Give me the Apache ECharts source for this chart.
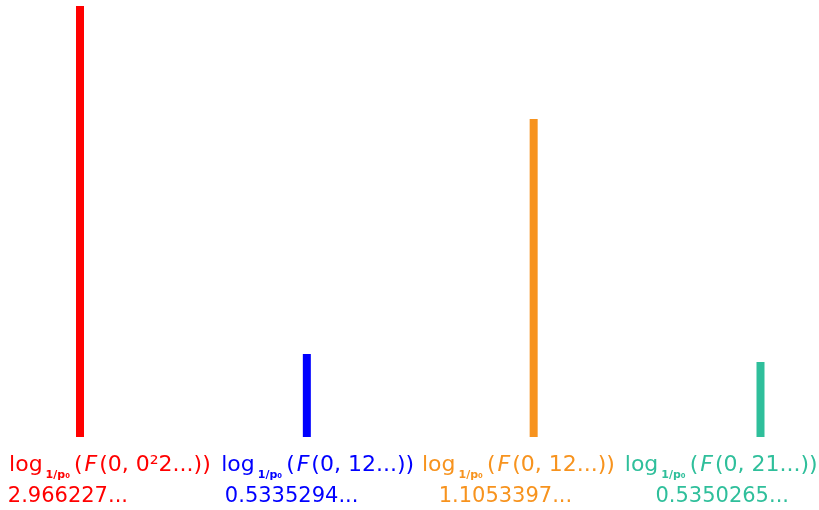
<!DOCTYPE html>
<html>
<head>
<meta charset="utf-8">
<script src="https://cdn.jsdelivr.net/npm/echarts@6/dist/echarts.min.js"></script>
<style>
  html, body { margin: 0; padding: 0; background: #fff; }
  #main { width: 819px; height: 510px; }
</style>
</head>
<body>
<div id="main"></div>
<script>
// argument of F(0, ...) in each label
var labelArgs = ['0\u00b22...', '12...', '12...', '21...'];
// numbers printed under each label
var valueTexts = ['2.966227...', '0.5335294...', '1.1053397...', '0.5350265...'];
// bar heights
var barHeights = [431, 83, 318, 75];
var colors = ['#ff0000', '#0000ff', '#f7931e', '#2fbf9b'];

// horizontal nudges (px): value line under its label, and the label line itself
var valueShift = [-50, -26, -12, 5];
var labelShift = [-8, 0, 1, 4];

var font = 'DejaVu Sans';
var rich = {};
for (var i = 0; i < colors.length; i++) {
  var ls = labelShift[i];
  rich['l' + i] = { color: colors[i], fontSize: 22, fontFamily: font, lineHeight: 34,
    padding: [0, 0, 0, Math.max(0, 2 * ls)] };
  rich['p' + i] = { color: colors[i], fontSize: 22, fontFamily: font, lineHeight: 34, padding: [0, 2, 0, 0] };
  rich['e' + i] = { color: colors[i], fontSize: 22, fontFamily: font, lineHeight: 34,
    padding: [0, Math.max(0, -2 * ls), 0, 0] };
  rich['f' + i] = { color: colors[i], fontSize: 22, fontFamily: font, fontStyle: 'italic', lineHeight: 34,
    padding: [0, 2, 0, 0] };
  rich['s' + i] = { color: colors[i], fontSize: 11, fontFamily: font, fontWeight: 'bold', lineHeight: 34,
    verticalAlign: 'bottom', padding: [0, 4, 1, 3] };
  var sh = valueShift[i];
  rich['v' + i] = { color: colors[i], fontSize: 21, fontFamily: font, lineHeight: 30,
    padding: sh < 0 ? [0, -2 * sh, 0, 0] : [0, 0, 0, 2 * sh] };
}

var myChart = echarts.init(document.getElementById('main'));
var option = {
  animation: false,
  grid: [
    { left: 80, right: 58.5, top: 6, bottom: 73 },
    { left: 18, width: 812, top: 436, height: 1 }
  ],
  xAxis: [
    {
      type: 'category',
      gridIndex: 0,
      boundaryGap: false,
      data: valueTexts,
      axisLine: { show: false },
      axisTick: { show: false },
      axisLabel: { show: false },
      splitLine: { show: false }
    },
    {
      type: 'category',
      gridIndex: 1,
      boundaryGap: true,
      data: valueTexts,
      axisLine: { show: false },
      axisTick: { show: false },
      splitLine: { show: false },
      axisLabel: {
        interval: 0,
        hideOverlap: false,
        margin: 11,
        formatter: function (v, idx) {
          return '{l' + idx + '|log}{s' + idx + '|1/p\u2080}{p' + idx + '|(}{f' + idx + '|F}{e' + idx +
            '|(0, ' + labelArgs[idx] + '))}\n{v' + idx + '|' + valueTexts[idx] + '}';
        },
        rich: rich
      }
    }
  ],
  yAxis: [
    { type: 'value', gridIndex: 0, min: 0, max: 431, show: false },
    { type: 'value', gridIndex: 1, show: false }
  ],
  series: [
    {
      type: 'bar',
      xAxisIndex: 0,
      yAxisIndex: 0,
      barWidth: 8,
      data: barHeights.map(function (h, k) {
        return { value: h, itemStyle: { color: colors[k] } };
      })
    }
  ]
};
myChart.setOption(option);
</script>
</body>
</html>
